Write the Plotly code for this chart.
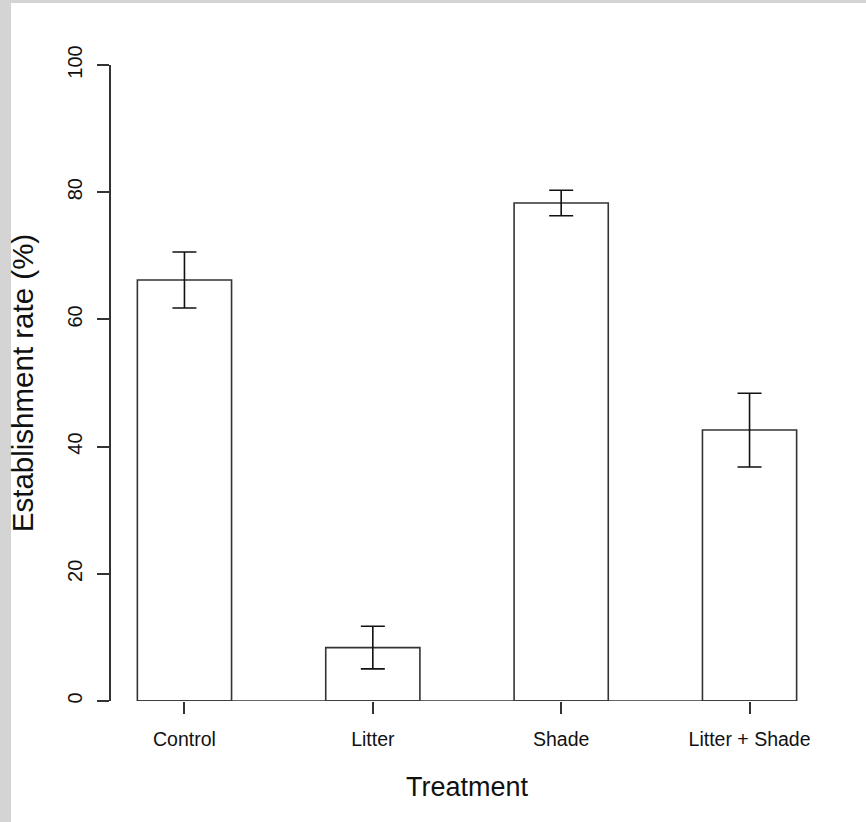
import plotly.graph_objects as go

treatments = ["Control", "Litter", "Shade", "Litter + Shade"]
establishment = [66.2, 8.4, 78.3, 42.6]
std_err = [4.4, 3.35, 2.0, 5.8]
y_ticks = [0, 20, 40, 60, 80, 100]

W, H = 866, 822
ML, MR, MT, MB = 111, 43, 65, 121
PW, PH = W - ML - MR, H - MT - MB
BARGAP = 0.5
FONT = "Liberation Sans, Arial, sans-serif"
INK = "#111111"


def xp(px):
    return (px - ML) / PW


def yp(py):
    return (H - MB - py) / PH


fig = go.Figure()

fig.add_trace(
    go.Bar(
        x=treatments,
        y=establishment,
        marker=dict(color="white", line=dict(color="#333333", width=1.6)),
        error_y=dict(type="data", array=std_err, visible=True,
                     color=INK, thickness=1.6, width=12),
        showlegend=False,
    )
)

# baseline under the bars, from first bar's left edge to last bar's right edge
half = (1 - BARGAP) / 2
fig.add_shape(type="line", xref="x", yref="y",
              x0=-half, x1=len(treatments) - 1 + half, y0=0, y1=0,
              line=dict(color="#333333", width=1.6))

# grey frame on the left and top edges
frame = "#d4d4d4"
fig.add_shape(type="rect", xref="paper", yref="paper", layer="below",
              x0=xp(0), x1=xp(11), y0=yp(H), y1=yp(0),
              line=dict(width=0), fillcolor=frame)
fig.add_shape(type="rect", xref="paper", yref="paper", layer="below",
              x0=xp(0), x1=xp(W), y0=yp(3), y1=yp(0),
              line=dict(width=0), fillcolor=frame)

fig.update_layout(
    width=W,
    height=H,
    margin=dict(l=ML, r=MR, t=MT, b=MB, pad=0),
    paper_bgcolor="white",
    plot_bgcolor="white",
    bargap=BARGAP,
    font=dict(family=FONT, color=INK),
    xaxis=dict(
        range=[-0.39, 3.39],
        showgrid=False,
        zeroline=False,
        showline=False,
        ticks="outside",
        ticklen=12,
        tickwidth=1.5,
        tickcolor="#333333",
        tickfont=dict(size=19.5, color=INK),
        ticklabelstandoff=9,
        title=dict(text="Treatment", font=dict(size=27, color=INK), standoff=27),
    ),
    yaxis=dict(
        range=[0, 100],
        tickvals=y_ticks,
        showgrid=False,
        zeroline=False,
        showline=True,
        linecolor="#333333",
        linewidth=1.6,
        ticks="outside",
        ticklen=12,
        tickwidth=1.5,
        tickcolor="#333333",
        tickangle=-90,
        tickfont=dict(size=20, color=INK),
        ticklabelstandoff=7,
        title=dict(text="Establishment rate (%)", font=dict(size=29.5, color=INK), standoff=22),
    ),
)

fig.write_html("out.html", config={"displayModeBar": False},
               post_script="document.body.style.margin = '0';")
